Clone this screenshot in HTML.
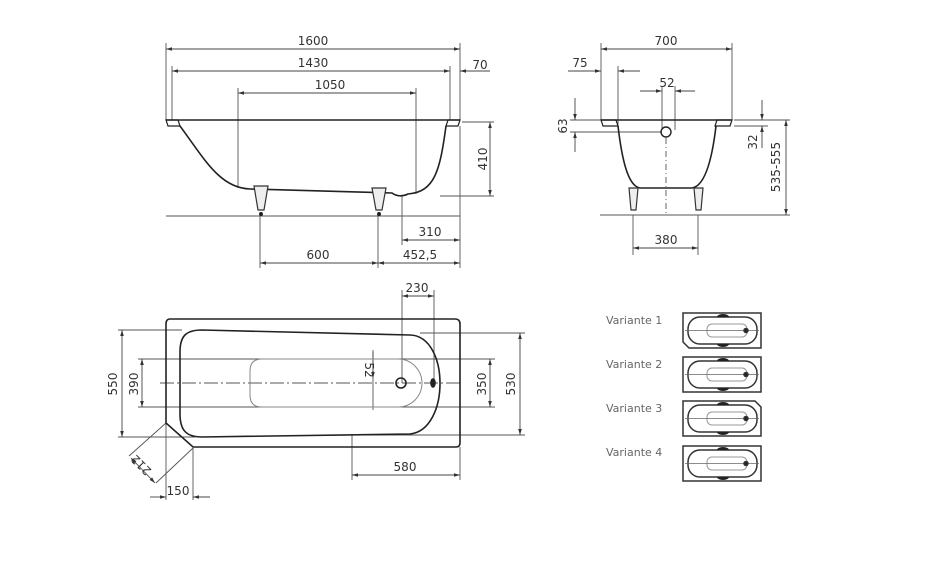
<!DOCTYPE html>
<html><head><meta charset="utf-8"><style>
html,body{margin:0;padding:0;background:#fff;}
svg{display:block;}
text{font-family:"DejaVu Sans","Liberation Sans",sans-serif;font-size:12px;fill:#333;}
</style></head><body>
<svg width="940" height="587" viewBox="0 0 940 587" xmlns="http://www.w3.org/2000/svg">
<defs>
<marker id="a" viewBox="0 0 10 6" refX="10" refY="3" markerWidth="8" markerHeight="4" orient="auto-start-reverse"><path d="M0,0L10,3L0,6z" fill="#333"/></marker>
</defs>
<g stroke="#555" stroke-width="0.9" fill="none">
<path d="M166,43V120M460,43V120M172,66V120M450,66V120M238,88V188M416,88V194M402,196V245M460,126V268M260,216V268M378,216V268M462,122H494M440,196H494"/>
<path d="M166,216H460"/>
</g>
<g stroke="#444" stroke-width="0.9" fill="none" marker-start="url(#a)" marker-end="url(#a)">
<path d="M166,49H460"/><path d="M172,71H450"/><path d="M238,93H416"/>
<path d="M490,122V196"/><path d="M402,240H460"/><path d="M378,263H460"/><path d="M260,263H378"/>
</g>
<path d="M460,71H490" stroke="#444" stroke-width="0.9" fill="none" marker-start="url(#a)"/>
<g stroke="#222" stroke-width="1.6" fill="none">
<path d="M166,120H460"/>
<path d="M166,120h12l2,6h-12z" stroke-width="1.2"/>
<path d="M460,120h-12l-2,6h12z" stroke-width="1.2"/>
<path d="M180,126C205,160 220,188 250,189L392,193C396,196 402,197 408,194C435,192 440,170 446,126"/>
</g>
<g stroke="#333" stroke-width="1.2" fill="#eee">
<path d="M254,186h14l-4,24h-6z"/><path d="M372,188h14l-4,22h-6z"/>
</g>
<circle cx="261" cy="214" r="2" fill="#222"/><circle cx="379" cy="214" r="2" fill="#222"/>
<text x="313" y="45" text-anchor="middle">1600</text>
<text x="313" y="67" text-anchor="middle">1430</text>
<text x="330" y="89" text-anchor="middle">1050</text>
<text x="480" y="69" text-anchor="middle">70</text>
<text transform="translate(487,159) rotate(-90)" text-anchor="middle">410</text>
<text x="430" y="236" text-anchor="middle">310</text>
<text x="420" y="259" text-anchor="middle">452,5</text>
<text x="318" y="259" text-anchor="middle">600</text>

<g stroke="#555" stroke-width="0.9" fill="none">
<path d="M601,43V120M732,43V120M618,66V126M662,86V130M675,86V130M570,120H601M570,132H662M734,120H768M734,126H768M600,215H790M736,120H790"/>
<path d="M633,215V255M698,215V255"/>
<path d="M666,138V215" stroke-dasharray="6,3,1,3"/>
</g>
<g stroke="#444" stroke-width="0.9" fill="none" marker-start="url(#a)" marker-end="url(#a)">
<path d="M601,49H732"/><path d="M633,248H698"/><path d="M786,120V215"/>
</g>
<g stroke="#444" stroke-width="0.9" fill="none">
<path d="M568,71H601" marker-end="url(#a)"/><path d="M640,71H618" marker-end="url(#a)"/>
<path d="M640,91H662" marker-end="url(#a)"/><path d="M695,91H675" marker-end="url(#a)"/>
<path d="M575,98V120" marker-end="url(#a)"/><path d="M575,152V132" marker-end="url(#a)"/>
<path d="M762,100V120" marker-end="url(#a)"/><path d="M762,148V126" marker-end="url(#a)"/>
</g>
<g stroke="#222" stroke-width="1.6" fill="none">
<path d="M601,120H732"/>
<path d="M601,120h15l2,6h-15z" stroke-width="1.2"/>
<path d="M732,120h-15l-2,6h15z" stroke-width="1.2"/>
<path d="M618,126C622,160 628,186 640,188L692,188C705,186 712,160 716,126"/>
<circle cx="666" cy="132" r="5" stroke-width="1.4"/>
</g>
<g stroke="#333" stroke-width="1.2" fill="#eee">
<path d="M629,188h9l-2,22h-5z"/><path d="M694,188h9l-2,22h-5z"/>
</g>
<text x="666" y="45" text-anchor="middle">700</text>
<text x="580" y="67" text-anchor="middle">75</text>
<text x="667" y="87" text-anchor="middle">52</text>
<text transform="translate(567,126) rotate(-90)" text-anchor="middle">63</text>
<text transform="translate(757,142) rotate(-90)" text-anchor="middle">32</text>
<text transform="translate(780,167) rotate(-90)" text-anchor="middle">535-555</text>
<text x="666" y="244" text-anchor="middle">380</text>

<g stroke="#555" stroke-width="0.9" fill="none">
<path d="M118,330H182M118,437H195M138,359H495M138,407H495M420,333H525M350,435H525"/>
<path d="M402,290V383M434,290V383M352,435V480M460,447V480M166,423V500M193,448V500"/>
<path d="M373,350V410"/>
<path d="M166,423L129,456M193,448L156,483"/>
<path d="M160,383H462" stroke-dasharray="14,3,2,3"/>
</g>
<g stroke="#444" stroke-width="0.9" fill="none" marker-start="url(#a)" marker-end="url(#a)">
<path d="M122,330V437"/><path d="M142,359V407"/><path d="M490,359V407"/><path d="M520,333V435"/>
<path d="M402,296H434"/><path d="M352,475H460"/><path d="M131,458L155,483"/>
</g>
<g stroke="#444" stroke-width="0.9" fill="none">
<path d="M150,497H166" marker-end="url(#a)"/><path d="M210,497H193" marker-end="url(#a)"/>
<path d="M373,352V378" marker-end="url(#a)"/>
</g>
<g stroke="#222" stroke-width="1.6" fill="none">
<path d="M170,319H455q5,0 5,5V443q0,4-4,4H193L166,423V324q0-5,4-5z"/>
<path d="M202,330L410,335C450,336 450,430 410,434L202,437C186,437 180,430 180,414V352C180,336 186,330 202,330z"/>
<path d="M262,359H398a24,24 0 0 1 0,48H262q-12,0-12-12V371q0-12,12-12z" stroke="#888" stroke-width="1"/>
<circle cx="401" cy="383" r="5"/>
<ellipse cx="433" cy="383" rx="2" ry="4" fill="#222"/>
</g>
<text x="417" y="292" text-anchor="middle">230</text>
<text x="405" y="471" text-anchor="middle">580</text>
<text x="178" y="495" text-anchor="middle">150</text>
<text transform="translate(117,384) rotate(-90)" text-anchor="middle">550</text>
<text transform="translate(138,384) rotate(-90)" text-anchor="middle">390</text>
<text transform="translate(486,384) rotate(-90)" text-anchor="middle">350</text>
<text transform="translate(515,384) rotate(-90)" text-anchor="middle">530</text>
<text transform="translate(365,370) rotate(90)" text-anchor="middle">52</text>
<text transform="translate(144,462) rotate(225)" text-anchor="middle">212</text>

<text x="606" y="324" style="fill:#666;font-size:11px">Variante 1</text>
<text x="606" y="368" style="fill:#666;font-size:11px">Variante 2</text>
<text x="606" y="412" style="fill:#666;font-size:11px">Variante 3</text>
<text x="606" y="456" style="fill:#666;font-size:11px">Variante 4</text>
<g stroke="#333" stroke-width="1.5" fill="none">
<g transform="translate(683,313)">
<path d="M0,0H78V35H6L0,29z"/><rect x="5" y="4" width="69" height="27" rx="12"/><rect x="24" y="11" width="40" height="13" rx="5" stroke="#999" stroke-width="1"/>
<path d="M2,17.5H76" stroke="#666" stroke-width="0.7"/><circle cx="63" cy="17.5" r="2" fill="#222"/>
<path d="M34,4a6,3 0 0 1 12,0zM34,31a6,3 0 0 0 12,0z" fill="#222" stroke="none"/>
</g>
<g transform="translate(683,357)">
<path d="M0,0H78V35H0z"/><rect x="5" y="4" width="69" height="27" rx="12"/><rect x="24" y="11" width="40" height="13" rx="5" stroke="#999" stroke-width="1"/>
<path d="M2,17.5H76" stroke="#666" stroke-width="0.7"/><circle cx="63" cy="17.5" r="2" fill="#222"/>
<path d="M34,4a6,3 0 0 1 12,0zM34,31a6,3 0 0 0 12,0z" fill="#222" stroke="none"/>
</g>
<g transform="translate(683,401)">
<path d="M0,0H72L78,6V35H0z"/><rect x="5" y="4" width="69" height="27" rx="12"/><rect x="24" y="11" width="40" height="13" rx="5" stroke="#999" stroke-width="1"/>
<path d="M2,17.5H76" stroke="#666" stroke-width="0.7"/><circle cx="63" cy="17.5" r="2" fill="#222"/>
<path d="M34,4a6,3 0 0 1 12,0zM34,31a6,3 0 0 0 12,0z" fill="#222" stroke="none"/>
</g>
<g transform="translate(683,446)">
<path d="M0,0H78V35H0z"/><rect x="5" y="4" width="69" height="27" rx="12"/><rect x="24" y="11" width="40" height="13" rx="5" stroke="#999" stroke-width="1"/>
<path d="M2,17.5H76" stroke="#666" stroke-width="0.7"/><circle cx="63" cy="17.5" r="2" fill="#222"/>
<path d="M34,4a6,3 0 0 1 12,0zM34,31a6,3 0 0 0 12,0z" fill="#222" stroke="none"/>
</g>
</g>
</svg>
</body></html>
